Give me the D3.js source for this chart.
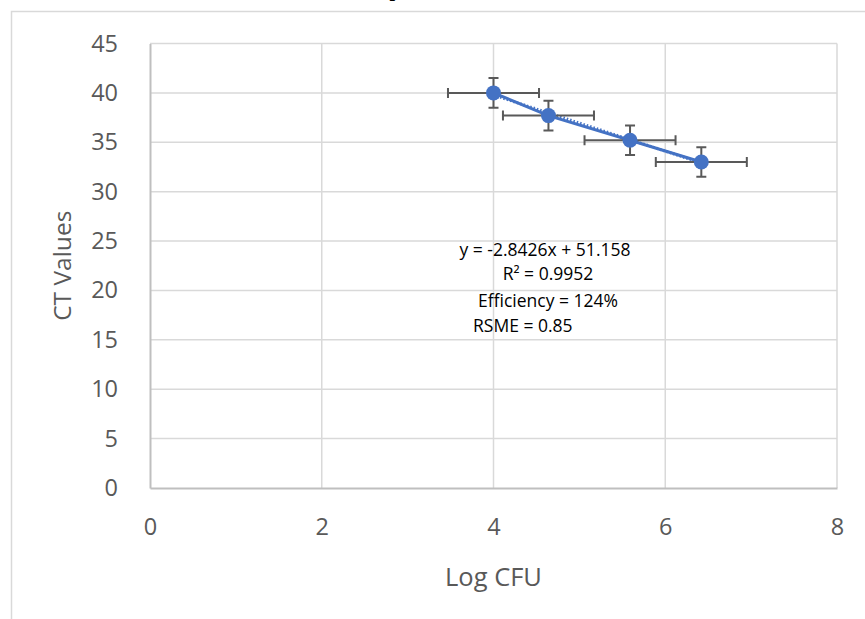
<!DOCTYPE html>
<html>
<head>
<meta charset="utf-8">
<script src="https://cdn.jsdelivr.net/npm/d3@7"></script>
<style>
  body { margin: 0; background: #fff; }
  svg { display: block; font-family: "Open Sans", sans-serif; }
</style>
</head>
<body>
<div id="chart"></div>
<script>
// Data
const logCfu = [4.0, 4.64, 5.59, 6.42];
const ctValues = [40.0, 37.7, 35.2, 33.0];
const xErr = [0.53, 0.53, 0.53, 0.53];
const yErr = [1.5, 1.5, 1.5, 1.5];
const slope = -2.8426;
const intercept = 51.158;
const xTicks = [0, 2, 4, 6, 8];
const yTicks = [0, 5, 10, 15, 20, 25, 30, 35, 40, 45];
const notes = ["y = -2.8426x + 51.158", "R² = 0.9952", "Efficiency = 124%", "RSME = 0.85"];

// Dimensions
const width = 865;
const height = 619;
const marginTop = 43.5;
const marginRight = 28;
const marginBottom = 131;
const marginLeft = 150;

const x = d3.scaleLinear([0, 8], [marginLeft, width - marginRight]);
const y = d3.scaleLinear([0, 45], [height - marginBottom, marginTop]);

const svg = d3.create("svg").attr("width", width).attr("height", height);

// Outer chart frame
svg.append("path")
  .attr("d", `M11.5,${height + 5}V11.5H${width + 5}`)
  .attr("fill", "none")
  .attr("stroke", "#d9d9d9")
  .attr("stroke-width", 1.5);

// Cut-off title fragment
svg.append("text")
  .attr("x", 395)
  .attr("y", -4)
  .attr("text-anchor", "middle")
  .attr("font-family", "Liberation Serif, serif")
  .attr("font-weight", "bold")
  .attr("font-size", 20)
  .text("p");

// Gridlines
svg.append("g")
  .selectAll("line")
  .data(yTicks.slice(1))
  .join("line")
  .attr("x1", x(0)).attr("x2", x(8))
  .attr("y1", (d) => y(d)).attr("y2", (d) => y(d))
  .attr("stroke", "#d9d9d9").attr("stroke-width", 1.5);

svg.append("g")
  .selectAll("line")
  .data(xTicks.slice(1))
  .join("line")
  .attr("x1", (d) => x(d)).attr("x2", (d) => x(d))
  .attr("y1", y(0)).attr("y2", y(45))
  .attr("stroke", "#d9d9d9").attr("stroke-width", 1.5);

// Axes
svg.append("g")
  .attr("transform", `translate(0,${y(0)})`)
  .call(d3.axisBottom(x).tickValues(xTicks).tickSize(0).tickPadding(30))
  .call((g) => g.select(".domain").attr("stroke", "#bfbfbf").attr("stroke-width", 2))
  .call((g) => g.selectAll("text").attr("font-size", 23.5).attr("fill", "#595959").attr("font-family", "Open Sans, sans-serif"));

svg.append("g")
  .attr("transform", `translate(${x(0)},0)`)
  .call(d3.axisLeft(y).tickValues(yTicks).tickSize(0).tickPadding(32))
  .call((g) => g.select(".domain").attr("stroke", "#bfbfbf").attr("stroke-width", 2))
  .call((g) => g.selectAll("text").attr("font-size", 23.5).attr("fill", "#595959").attr("font-family", "Open Sans, sans-serif"));

// Axis titles
svg.append("text")
  .attr("x", x(4))
  .attr("y", 586)
  .attr("text-anchor", "middle")
  .attr("font-size", 25.5)
  .attr("fill", "#595959")
  .text("Log CFU");

svg.append("text")
  .attr("transform", `translate(71,${(y(0) + y(45)) / 2}) rotate(-90)`)
  .attr("text-anchor", "middle")
  .attr("font-size", 24.5)
  .attr("fill", "#595959")
  .text("CT Values");

const points = logCfu.map((d, i) => ({ x: d, y: ctValues[i], ex: xErr[i], ey: yErr[i] }));

// Linear trendline (dotted, behind)
const trendX = d3.extent(logCfu);
svg.append("line")
  .attr("x1", x(trendX[0])).attr("y1", y(slope * trendX[0] + intercept))
  .attr("x2", x(trendX[1])).attr("y2", y(slope * trendX[1] + intercept))
  .attr("stroke", "#4472c4").attr("stroke-width", 3)
  .attr("stroke-dasharray", "1.5,2");

// Series line
svg.append("path")
  .attr("fill", "none")
  .attr("stroke", "#4472c4")
  .attr("stroke-width", 3)
  .attr("d", d3.line().x((d) => x(d.x)).y((d) => y(d.y))(points));

// Error bars
const err = svg.append("g").attr("stroke", "#595959").attr("stroke-width", 2).attr("fill", "none");
const cap = 5;
points.forEach((d) => {
  const x0 = x(d.x - d.ex), x1 = x(d.x + d.ex), yc = y(d.y);
  const y0 = y(d.y - d.ey), y1 = y(d.y + d.ey), xc = x(d.x);
  err.append("path").attr("d",
    `M${x0},${yc}H${x1}M${x0},${yc - cap}V${yc + cap}M${x1},${yc - cap}V${yc + cap}` +
    `M${xc},${y0}V${y1}M${xc - cap},${y0}H${xc + cap}M${xc - cap},${y1}H${xc + cap}`);
});

// Markers
svg.append("g")
  .selectAll("circle")
  .data(points)
  .join("circle")
  .attr("cx", (d) => x(d.x))
  .attr("cy", (d) => y(d.y))
  .attr("r", 7.5)
  .attr("fill", "#4472c4");

// Trendline label
const noteX = [545, 548, 548, 473];
const noteY = [256, 280, 307, 332];
const noteAnchor = ["middle", "middle", "middle", "start"];
svg.append("g")
  .selectAll("text")
  .data(notes)
  .join("text")
  .attr("x", (d, i) => noteX[i])
  .attr("y", (d, i) => noteY[i])
  .attr("text-anchor", (d, i) => noteAnchor[i])
  .attr("font-size", 17.5)
  .attr("fill", "#000")
  .text((d) => d);

document.getElementById("chart").appendChild(svg.node());
</script>
</body>
</html>
